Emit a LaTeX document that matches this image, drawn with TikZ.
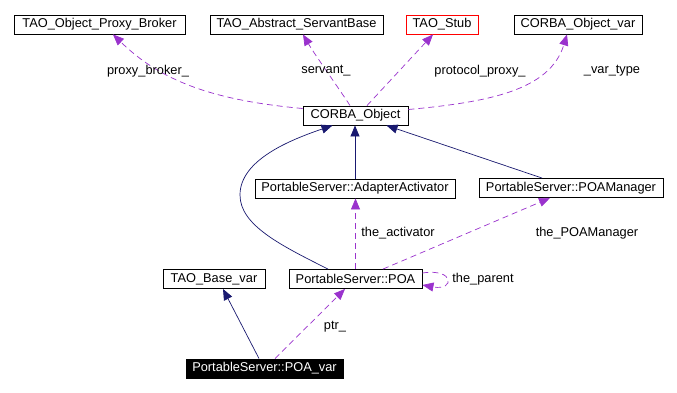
\documentclass[tikz,border=0pt]{standalone}
\usepackage{fontspec}
\setmainfont{Liberation Sans}
\usetikzlibrary{arrows.meta,calc}
\definecolor{inhcol}{HTML}{191970}
\definecolor{usecol}{HTML}{9A32CD}
\begin{document}
\begin{tikzpicture}[x=1pt,y=-1pt,
  cls/.style={draw=black, line width=0.9pt, fill=white, inner sep=0pt,
              minimum height=19pt, font=\fontsize{12.8}{14}\selectfont},
  lbl/.style={inner sep=0pt, font=\fontsize{12.8}{14}\selectfont},
  inherit/.style={draw=inhcol, line width=0.7pt, -{Triangle[length=11pt,width=9pt]}, fill=none},
  usage/.style={draw=usecol, line width=0.7pt, dash pattern=on 6pt off 4pt,
                -{Triangle[length=11pt,width=9pt]}},
]
\useasboundingbox[fill=white] (0,0) rectangle (677,393);

% classes
\node[cls, minimum width=171pt] (opb)  at (99.5,24.5)  {TAO\_Object\_Proxy\_Broker};
\node[cls, minimum width=173pt] (asb)  at (296.5,24.5) {TAO\_Abstract\_ServantBase};
\node[cls, minimum width=72pt, draw=red] (stub) at (442,24.5) {TAO\_Stub};
\node[cls, minimum width=128pt] (cov)  at (578,24.5)   {CORBA\_Object\_var};
\node[cls, minimum width=105pt] (cobj) at (355.5,115.5) {CORBA\_Object};
\node[cls, minimum width=200pt] (aa)   at (355,188.5)  {PortableServer::AdapterActivator};
\node[cls, minimum width=184pt] (pm)   at (571,188)    {PortableServer::POAManager};
\node[cls, minimum width=102pt] (tbv)  at (214,279)    {TAO\_Base\_var};
\node[cls, minimum width=133pt] (poa)  at (355.5,279)  {PortableServer::POA};
\node[cls, minimum width=157pt, fill=black, text=white] (pv) at (264.5,368.5) {PortableServer::POA\_var};

% inheritance
\draw[inherit] (aa.north) -- (aa.north |- cobj.south);
\draw[inherit] ($(pm.north)+(-29,0)$) -- ($(cobj.south)+(31,0)$);
\draw[inherit] ($(poa.north)+(-27.5,0)$) .. controls (280,245) and (240,225) .. (240,195)
               .. controls (240,160) and (290,140) .. ($(cobj.south)+(-23,0)$);
\draw[inherit] ($(pv.north)+(-5.5,0)$) -- ($(tbv.south)+(9,0)$);

% usage
\draw[usage] ($(cobj.west)+(0,-7)$) .. controls (210,100) and (160,80) .. ($(opb.south)+(13.5,0)$);
\draw[usage] ($(cobj.north)+(-5.5,0)$) .. controls (340,90) and (315,55) .. ($(asb.south)+(6.5,0)$);
\draw[usage] ($(cobj.north)+(11.5,0)$) -- ($(stub.south)+(-9,0)$);
\draw[usage] ($(cobj.east)+(0,-6)$) .. controls (490,102) and (550,90) .. ($(cov.south)+(-11,0)$);
\draw[usage] (poa.north) -- (poa.north |- aa.south);
\draw[usage] ($(poa.north)+(27.5,0)$) -- ($(pm.south)+(-21,0)$);
\draw[usage] ($(poa.east)+(0,-6)$) .. controls (455,268) and (455,291) .. ($(poa.east)+(0,6)$);
\draw[usage] ($(pv.north)+(10.5,0)$) -- ($(poa.south)+(-10.5,0)$);

% edge labels
\node[lbl] (l1) at (148,71)  {proxy\_broker\_};
\node[lbl] (l2) at (326,71)  {servant\_};
\node[lbl] (l3) at (480,71)  {protocol\_proxy\_};
\node[lbl] (l4) at (612,71)  {\_var\_type};
\node[lbl] (l5) at (398,233) {the\_activator};
\node[lbl] (l6) at (587,233) {the\_POAManager};
\node[lbl] (l7) at (483,279) {the\_parent};
\node[lbl] (l8) at (335,327) {ptr\_};
\end{tikzpicture}
\end{document}
